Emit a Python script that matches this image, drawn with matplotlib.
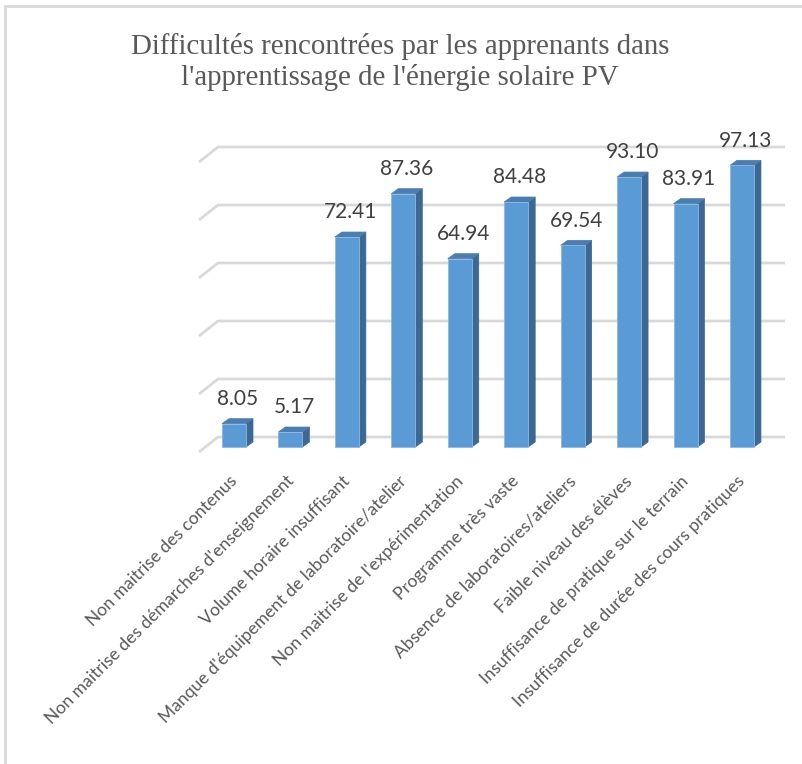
import matplotlib
matplotlib.use("Agg")
import matplotlib.pyplot as plt
from matplotlib.patches import Polygon, Rectangle

categories = [
    "Non maitrise des contenus",
    "Non maitrise des démarches d'enseignement",
    "Volume horaire insuffisant",
    "Manque d'équipement de laboratoire/atelier",
    "Non maitrise de l'expérimentation",
    "Programme très vaste",
    "Absence de laboratoires/ateliers",
    "Faible niveau des élèves",
    "Insuffisance de pratique sur le terrain",
    "Insuffisance de durée des cours pratiques",
]
values = [8.05, 5.17, 72.41, 87.36, 64.94, 84.48, 69.54, 93.10, 83.91, 97.13]
grid_ticks = [0, 20, 40, 60, 80, 100]
title = "Difficultés rencontrées par les apprenants dans\nl'apprentissage de l'énergie solaire PV"

W, H = 803, 764
fig = plt.figure(figsize=(W / 100, H / 100), dpi=100)

# frame
fig.patches.append(Rectangle((5 / W, -0.1), 1.2, (H - 6) / H + 0.1, transform=fig.transFigure,
                             fill=False, edgecolor="#d9d9d9", linewidth=2))

# plot area in pixel coords (image top-down)
px_l, px_r, px_t, px_b = 190, 790, 140, 460
x0_px, sx = 234, 56.44       # x pixel of category 0, px per category
y0_px, sy = 447, 2.9         # y pixel of value 0 (front), px per unit
ax = fig.add_axes([px_l / W, (H - px_b) / H, (px_r - px_l) / W, (px_b - px_t) / H])
ax.set_xlim((px_l - x0_px) / sx, (px_r - x0_px) / sx)
ax.set_ylim(-(px_b - y0_px) / sy, (y0_px - px_t) / sy)
ax.axis("off")

# depth parameters (data units)
back_dy = 10 / sy
floor_dx, floor_dy = 19 / sx, 15 / sy
back_left = (218 - x0_px) / sx
back_right = (785 - x0_px) / sx
half_w = 12 / sx
bar_dx, bar_dy = 7 / sx, 5 / sy

grid_col = "#d9d9d9"
for g in grid_ticks:
    yb = g + back_dy
    ax.plot([back_left - floor_dx, back_left, back_right], [yb - floor_dy, yb, yb],
            color=grid_col, lw=2, solid_capstyle="butt", zorder=1)

front_col = "#5B9BD5"
top_col = "#4A7EB2"
side_col = "#3C6892"
for i, v in enumerate(values):
    xl, xr = i - half_w, i + half_w
    ax.add_patch(Polygon([(xr, 0), (xr + bar_dx, bar_dy), (xr + bar_dx, v + bar_dy), (xr, v)],
                         closed=True, facecolor=side_col, edgecolor=side_col, lw=0.5, zorder=3))
    ax.add_patch(Polygon([(xl, v), (xr, v), (xr + bar_dx, v + bar_dy), (xl + bar_dx, v + bar_dy)],
                         closed=True, facecolor=top_col, edgecolor=top_col, lw=0.5, zorder=3))
    ax.add_patch(Rectangle((xl, 0), xr - xl, v, facecolor=front_col, edgecolor="#8DB8E2",
                           lw=0.6, zorder=4))
    ax.annotate(f"{v:.2f}", (i + bar_dx / 2, v + bar_dy), xytext=(0, 7), textcoords="offset points",
                ha="center", va="bottom", fontsize=15, family="Lato", color="#404040", zorder=5)
    ax.annotate(categories[i], (i, 0), xytext=(-5, -26), textcoords="offset pixels",
                ha="right", va="top", rotation=45, rotation_mode="anchor",
                fontsize=12.6, family="Lato", color="#595959", annotation_clip=False)

fig.text(400 / W, 1 - 62 / H, title, ha="center", va="center", fontsize=20.8,
         family="Liberation Serif", color="#595959", linespacing=1.2)

fig.savefig("out.png", dpi=100, facecolor="white")
